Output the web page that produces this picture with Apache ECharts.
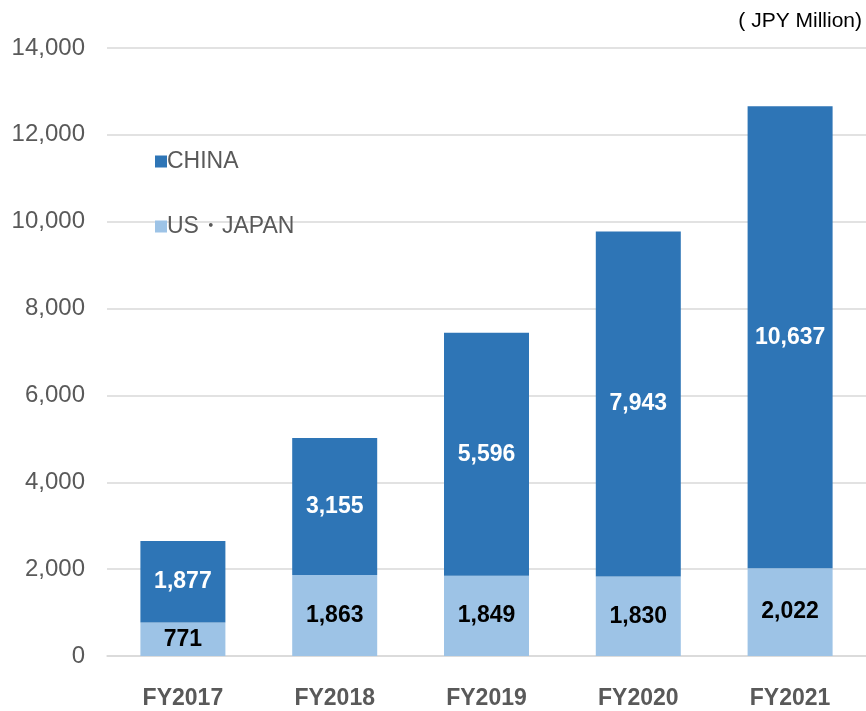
<!DOCTYPE html>
<html>
<head>
<meta charset="utf-8">
<script src="https://cdn.jsdelivr.net/npm/echarts@6/dist/echarts.min.js"></script>
<style>html,body{margin:0;padding:0;background:#fff;}#c{width:866px;height:711px;}</style>
</head>
<body>
<div id="c"></div>
<script>
const categories = ['FY2017', 'FY2018', 'FY2019', 'FY2020', 'FY2021'];
const usJapan = [771, 1863, 1849, 1830, 2022];
const china = [1877, 3155, 5596, 7943, 10637];
const seriesNames = ['CHINA', 'US・JAPAN'];
const unitText = '( JPY Million)';
const titleText = 'Sales by Region';

const FONT = '"Liberation Sans", Arial, sans-serif';
const chart = echarts.init(document.getElementById('c'), null, {renderer: 'canvas'});
const fmt = v => v.toLocaleString('en-US');

chart.setOption({
  animation: false,
  textStyle: {fontFamily: FONT},
  graphic: [
    {type: 'text', x: 311, y: -2, style: {text: titleText, font: 'bold 44px ' + FONT, fill: '#404040', verticalAlign: 'bottom'}},
    {type: 'text', right: 4, top: 11, style: {text: unitText, font: '21px ' + FONT, fill: '#000'}}
  ],
  legend: {
    orient: 'vertical',
    left: 150,
    top: 145,
    itemWidth: 12,
    itemHeight: 12,
    itemGap: 42,
    icon: 'rect',
    data: seriesNames,
    textStyle: {fontSize: 23, color: '#595959', fontFamily: FONT, padding: [0, 0, 0, -5]}
  },
  grid: {left: 107, right: -4, top: 48, bottom: 55, containLabel: false},
  xAxis: {
    type: 'category',
    data: categories,
    axisTick: {show: false},
    axisLine: {lineStyle: {color: '#D9D9D9', width: 1.5}},
    axisLabel: {fontSize: 23, fontWeight: 'bold', color: '#595959', margin: 31, fontFamily: FONT}
  },
  yAxis: {
    type: 'value',
    min: 0, max: 14000, interval: 2000,
    axisLine: {show: false},
    axisTick: {show: false},
    splitLine: {lineStyle: {color: '#D9D9D9', width: 1.5}},
    axisLabel: {fontSize: 24, color: '#595959', margin: 22, formatter: v => fmt(v), fontFamily: FONT}
  },
  series: [
    {
      name: 'US・JAPAN', type: 'bar', stack: 'a', data: usJapan, barWidth: 85,
      itemStyle: {color: '#9DC3E6'},
      label: {show: true, position: 'inside', formatter: p => fmt(p.value), color: '#000', fontWeight: 'bold', fontSize: 23, fontFamily: FONT}
    },
    {
      name: 'CHINA', type: 'bar', stack: 'a', data: china, barWidth: 85,
      itemStyle: {color: '#2E75B6'},
      label: {show: true, position: 'inside', formatter: p => fmt(p.value), color: '#fff', fontWeight: 'bold', fontSize: 23, fontFamily: FONT}
    }
  ]
});
</script>
</body>
</html>
